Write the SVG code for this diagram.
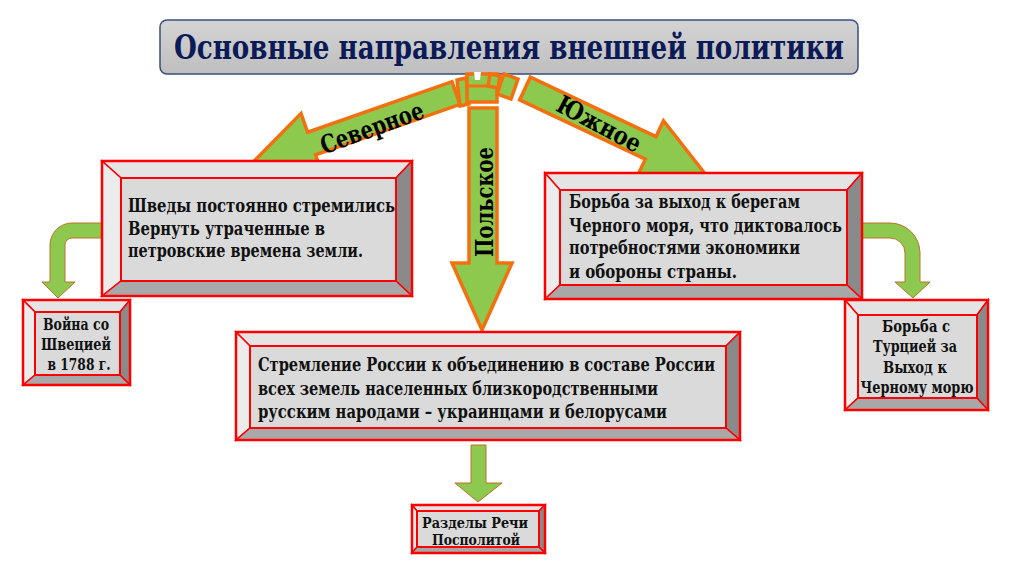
<svg xmlns="http://www.w3.org/2000/svg" width="1024" height="574" viewBox="0 0 1024 574">
<defs>
<linearGradient id="tg" x1="0" y1="0" x2="0" y2="1">
<stop offset="0" stop-color="#d4d4d4"/>
<stop offset="1" stop-color="#bebebe"/>
</linearGradient>
</defs>
<style>
.arr{fill:#8dc94e;stroke:#f2700f;stroke-width:3.5;stroke-linejoin:miter}
.carr{fill:#8dc94e;stroke:#c0702a;stroke-width:1}
.bt{fill:#e4e4e4;stroke:#ff0000;stroke-width:1.5}
.bl{fill:#ececec;stroke:#ff0000;stroke-width:1.5}
.br{fill:#8a8a8a;stroke:#ff0000;stroke-width:1.5}
.bb{fill:#a8a8a8;stroke:#ff0000;stroke-width:1.5}
.bi{fill:#dadada;stroke:#ff0000;stroke-width:2}
.bo{fill:none;stroke:#ff0000;stroke-width:2.5}
.f{font-family:"DejaVu Serif Condensed","DejaVu Serif",serif;font-weight:bold}
.t{fill:#111}
.al{fill:#000;font-size:25px}
</style>
<rect width="1024" height="574" fill="#ffffff"/>

<g id="title">
<rect x="160" y="20" width="698" height="54" rx="7" fill="url(#tg)" stroke="#3a4f80" stroke-width="1.5"/>
<text class="f" x="509" y="59" text-anchor="middle" font-size="34" fill="#0c1a58" textLength="670" lengthAdjust="spacingAndGlyphs">Основные направления внешней политики</text>
</g>

<g id="connectors">
<polygon class="arr" points="457,80 466,78 469,104 460,106" />
<polygon class="arr" points="467,74 497,74 497,102 467,102" />
<line x1="467" y1="86" x2="497" y2="86" stroke="#f2700f" stroke-width="3"/>
<polygon points="474,72 481,72 480,80 475,80" fill="#ffffff"/>
<polygon class="arr" points="490,74 500,76 498,88 488,86" />
<polygon class="arr" points="504,74 518,79 511,99 497,94" />
<g transform="translate(456,93) rotate(160.7)">
<polygon class="arr" points="0,-12 153,-12 153,-32 218,0 153,32 153,12 0,12"/>
</g>
<text class="f al" transform="translate(372,128) rotate(-20)" text-anchor="middle" dominant-baseline="central" textLength="108" lengthAdjust="spacingAndGlyphs">Северное</text>
<g transform="translate(525,88.5) rotate(25.3)">
<polygon class="arr" points="0,-12.5 139,-12.5 139,-30 199,0 139,30 139,12.5 0,12.5"/>
</g>
<text class="f al" transform="translate(599,124) rotate(28)" text-anchor="middle" dominant-baseline="central" textLength="92" lengthAdjust="spacingAndGlyphs">Южное</text>
<polygon class="arr" points="469,108 497,108 497,263 512,263 482,330 452,263 469,263"/>
<text class="f al" transform="translate(484,202) rotate(-90)" text-anchor="middle" dominant-baseline="central" textLength="110" lengthAdjust="spacingAndGlyphs">Польское</text>
<path class="carr" d="M104,223 L72,223 A22,22 0 0 0 50,245 L50,282 L42,282 L58,298 L75,282 L65,282 L65,245 A7,7 0 0 1 72,238 L104,238 Z"/>
<path class="carr" d="M860,223 L890,223 A30,30 0 0 1 920,253 L920,282 L930,282 L913,298 L895,282 L905,282 L905,253 A15,15 0 0 0 890,238 L860,238 Z"/>
<polygon class="carr" points="471,445 486,445 486,483 502,483 478,502 455,483 471,483"/>
</g>

<g id="box-north">
<polygon class="bt" points="102,161 412,161 396,178 121,178"/>
<polygon class="bl" points="102,161 121,178 121,281 102,296"/>
<polygon class="br" points="412,161 412,296 396,281 396,178"/>
<polygon class="bb" points="102,296 121,281 396,281 412,296"/>
<rect class="bi" x="121" y="178" width="275" height="103"/>
<rect class="bo" x="102" y="161" width="310" height="135"/>
<text class="f t" font-size="18"><tspan x="128" y="212" textLength="267" lengthAdjust="spacingAndGlyphs">Шведы постоянно стремились</tspan><tspan x="128" y="235" textLength="197" lengthAdjust="spacingAndGlyphs">Вернуть утраченные в</tspan><tspan x="128" y="257" textLength="235" lengthAdjust="spacingAndGlyphs">петровские времена земли.</tspan></text>
</g>

<g id="box-south">
<polygon class="bt" points="545,173 862,173 847,190 560,190"/>
<polygon class="bl" points="545,173 560,190 560,285 545,299"/>
<polygon class="br" points="862,173 862,299 847,285 847,190"/>
<polygon class="bb" points="545,299 560,285 847,285 862,299"/>
<rect class="bi" x="560" y="190" width="287" height="95"/>
<rect class="bo" x="545" y="173" width="317" height="126"/>
<text class="f t" font-size="18"><tspan x="569" y="208" textLength="231" lengthAdjust="spacingAndGlyphs">Борьба за выход к берегам</tspan><tspan x="569" y="232" textLength="273" lengthAdjust="spacingAndGlyphs">Черного моря, что диктовалось</tspan><tspan x="569" y="254" textLength="231" lengthAdjust="spacingAndGlyphs">потребностями экономики</tspan><tspan x="569" y="278" textLength="168" lengthAdjust="spacingAndGlyphs">и обороны  страны.</tspan></text>
</g>

<g id="box-poland">
<polygon class="bt" points="236,332 740,332 726,346 250,346"/>
<polygon class="bl" points="236,332 250,346 250,428 236,440"/>
<polygon class="br" points="740,332 740,440 726,428 726,346"/>
<polygon class="bb" points="236,440 250,428 726,428 740,440"/>
<rect class="bi" x="250" y="346" width="476" height="82"/>
<rect class="bo" x="236" y="332" width="504" height="108"/>
<text class="f t" font-size="18"><tspan x="258" y="371" textLength="457" lengthAdjust="spacingAndGlyphs">Стремление России к объединению в составе России</tspan><tspan x="258" y="395" textLength="400" lengthAdjust="spacingAndGlyphs">всех земель населенных близкородственными</tspan><tspan x="258" y="418" textLength="409" lengthAdjust="spacingAndGlyphs">русским народами – украинцами и белорусами</tspan></text>
</g>

<g id="box-sweden">
<polygon class="bt" points="23,300 130,300 120,312 35,312"/>
<polygon class="bl" points="23,300 35,312 35,375 23,385"/>
<polygon class="br" points="130,300 130,385 120,375 120,312"/>
<polygon class="bb" points="23,385 35,375 120,375 130,385"/>
<rect class="bi" x="35" y="312" width="85" height="63"/>
<rect class="bo" x="23" y="300" width="107" height="85"/>
<text class="f t" font-size="16" text-anchor="middle"><tspan x="76" y="330" textLength="66" lengthAdjust="spacingAndGlyphs">Война со</tspan><tspan x="76" y="350" textLength="70" lengthAdjust="spacingAndGlyphs">Швецией</tspan><tspan x="79" y="370" textLength="63" lengthAdjust="spacingAndGlyphs">в 1788 г.</tspan></text>
</g>

<g id="box-turkey">
<polygon class="bt" points="845,300 988,300 977,315 858,315"/>
<polygon class="bl" points="845,300 858,315 858,398 845,410"/>
<polygon class="br" points="988,300 988,410 977,398 977,315"/>
<polygon class="bb" points="845,410 858,398 977,398 988,410"/>
<rect class="bi" x="858" y="315" width="119" height="83"/>
<rect class="bo" x="845" y="300" width="143" height="110"/>
<text class="f t" font-size="16" text-anchor="middle"><tspan x="916" y="332" textLength="68" lengthAdjust="spacingAndGlyphs">Борьба с</tspan><tspan x="915" y="352" textLength="84" lengthAdjust="spacingAndGlyphs">Турцией за</tspan><tspan x="915" y="373" textLength="64" lengthAdjust="spacingAndGlyphs">Выход к</tspan><tspan x="917" y="393" textLength="113" lengthAdjust="spacingAndGlyphs">Черному морю</tspan></text>
</g>

<g id="box-partition">
<polygon class="bt" points="412,505 545,505 539,511 417,511"/>
<polygon class="bl" points="412,505 417,511 417,547 412,553"/>
<polygon class="br" points="545,505 545,553 539,547 539,511"/>
<polygon class="bb" points="412,553 417,547 539,547 545,553"/>
<rect class="bi" x="417" y="511" width="122" height="36"/>
<rect class="bo" x="412" y="505" width="133" height="48"/>
<text class="f t" font-size="14" text-anchor="middle"><tspan x="475" y="528" textLength="106" lengthAdjust="spacingAndGlyphs">Разделы Речи</tspan><tspan x="476" y="545" textLength="88" lengthAdjust="spacingAndGlyphs">Посполитой</tspan></text>
</g>
</svg>
